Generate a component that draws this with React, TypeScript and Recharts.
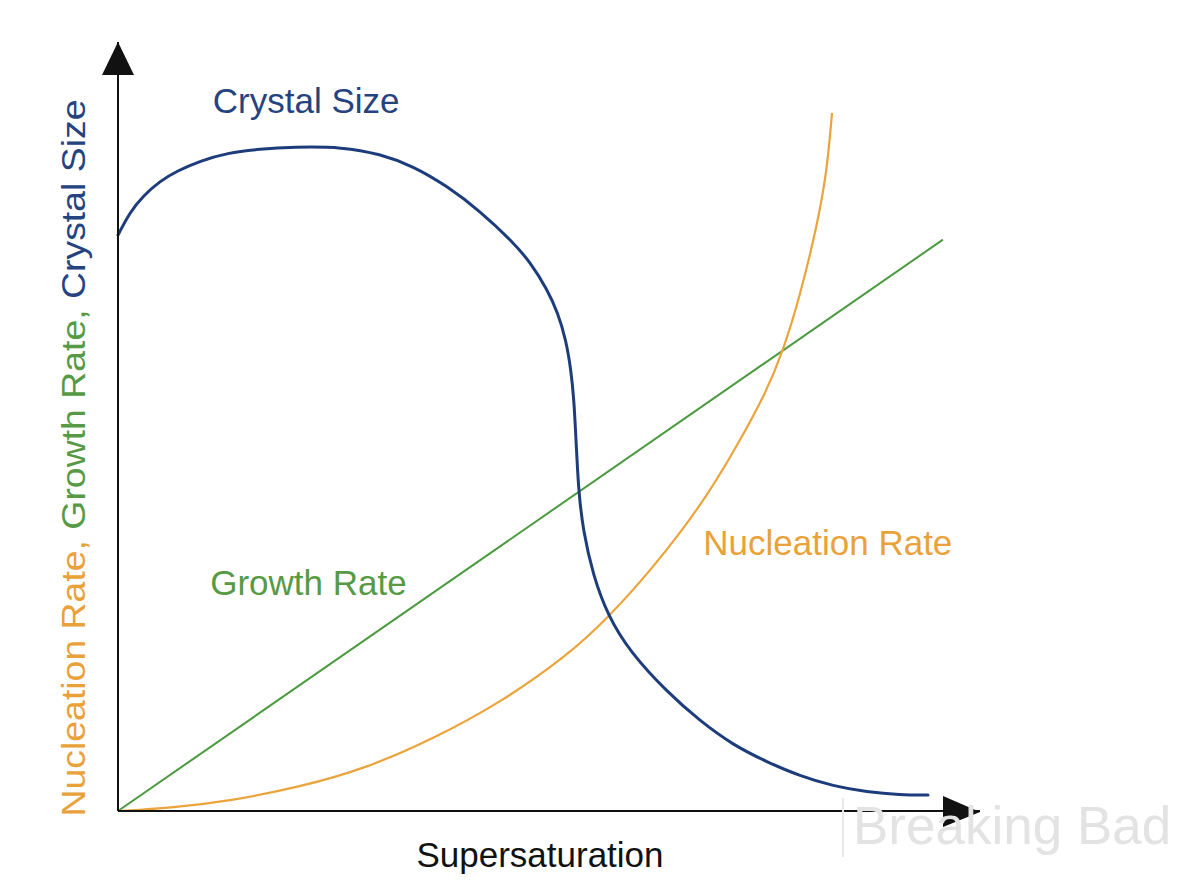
import { LineChart, Line, XAxis, YAxis, ReferenceDot } from "recharts";

// supersaturation (x) and the three curves (0..100 scale)
const crystalX = [0, 1.39, 2.9, 4.87, 6.84, 9.51, 12.65, 16.47, 20.3, 26.1, 30.39, 34.22, 38.17, 42.0, 45.82, 47.8, 49.77, 51.04, 51.97, 52.55, 52.9, 53.13, 53.31, 53.48, 53.94, 55.1, 56.84, 59.4, 63.69, 67.52, 71.35, 75.29, 79.12, 82.95, 86.89, 90.72, 93.97];
const crystalSize = [74.9, 77.89, 79.97, 81.92, 83.23, 84.53, 85.57, 86.09, 86.35, 86.35, 85.44, 83.88, 81.27, 78.02, 73.99, 71.39, 67.88, 64.76, 61.25, 57.35, 53.45, 48.24, 44.34, 41.35, 36.54, 30.69, 25.36, 20.68, 15.47, 11.7, 8.58, 6.37, 4.55, 3.25, 2.47, 2.08, 2.08];

const nucleationX = [0, 6.03, 12.99, 21.11, 28.89, 36.54, 44.32, 52.09, 56.84, 62.06, 67.52, 71.35, 75.29, 77.15, 79.12, 81.09, 82.25, 82.83];
const nucleationRate = [0, 0.39, 1.3, 3.12, 5.59, 9.36, 14.04, 20.16, 25.1, 31.6, 39.53, 46.55, 54.62, 59.82, 66.97, 76.07, 83.22, 90.77];

const growthX = [0, 95.7];
const growthRate = [0, 74.3];

// curve labels: text, anchor x, anchor y (baseline)
const labelText = ["Crystal Size", "Growth Rate", "Nucleation Rate"];
const labelX = [11.0, 10.7, 67.9];
const labelY = [90.8, 28.1, 33.3];

const BLUE = "#1d3c7c";
const GREEN = "#4a9a3e";
const ORANGE = "#eba43c";
const labelColors = ["#24437f", "#569a46", "#e9a23a"];
const FONT = "'Liberation Sans', Arial, sans-serif";

const crystalData = crystalX.map((x, i) => ({ x, y: crystalSize[i] }));
const nucleationData = nucleationX.map((x, i) => ({ x, y: nucleationRate[i] }));
const growthData = growthX.map((x, i) => ({ x, y: growthRate[i] }));

const YLabel = (props: any) => {
  const vb = props.viewBox;
  const bx = vb.x + vb.width - 33;
  const cy = 458;
  return (
    <text
      x={bx}
      y={cy}
      transform={`rotate(-90, ${bx}, ${cy})`}
      textAnchor="middle"
      fontSize={34}
      fontFamily={FONT}
      textLength={717}
      lengthAdjust="spacingAndGlyphs"
    >
      <tspan fill={labelColors[2]}>Nucleation Rate, </tspan>
      <tspan fill={labelColors[1]}>Growth Rate, </tspan>
      <tspan fill={labelColors[0]}>Crystal Size</tspan>
    </text>
  );
};

const XLabel = (props: any) => {
  const vb = props.viewBox;
  return (
    <text x={540} y={vb.y + 56} textAnchor="middle" fontSize={35} fontFamily={FONT} fill="#111">
      Supersaturation
    </text>
  );
};

export default function App() {
  return (
    <div style={{ position: "absolute", left: 0, top: 0, width: 1200, height: 888, background: "#fff" }}>
      <LineChart width={1200} height={888} margin={{ top: 42, right: 220, bottom: 47, left: 58 }}>
        <XAxis
          type="number"
          dataKey="x"
          domain={[0, 100]}
          height={30}
          tick={false}
          tickLine={false}
          axisLine={{ stroke: "#111", strokeWidth: 2 }}
          label={<XLabel />}
        />
        <YAxis
          type="number"
          dataKey="y"
          domain={[0, 100]}
          width={60}
          tick={false}
          tickLine={false}
          axisLine={{ stroke: "#111", strokeWidth: 2 }}
          label={<YLabel />}
        />
        <Line data={growthData} dataKey="y" type="linear" stroke={GREEN} strokeWidth={2} dot={false} isAnimationActive={false} />
        <Line data={nucleationData} dataKey="y" type="basis" stroke={ORANGE} strokeWidth={2.2} dot={false} isAnimationActive={false} />
        <Line data={crystalData} dataKey="y" type="basis" stroke={BLUE} strokeWidth={3} strokeLinecap="round" dot={false} isAnimationActive={false} />
        {/* axis arrowheads */}
        <ReferenceDot
          x={100}
          y={0}
          r={0}
          ifOverflow="visible"
          shape={(p: any) => (
            <polygon points={`${p.cx},${p.cy + 1} ${p.cx - 37},${p.cy - 15} ${p.cx - 37},${p.cy + 16}`} fill="#111" />
          )}
        />
        <ReferenceDot
          x={0}
          y={100}
          r={0}
          ifOverflow="visible"
          shape={(p: any) => (
            <polygon points={`${p.cx},${p.cy} ${p.cx - 16},${p.cy + 33} ${p.cx + 16},${p.cy + 33}`} fill="#111" />
          )}
        />
        {labelText.map((t, i) => (
          <ReferenceDot
            key={t}
            x={labelX[i]}
            y={labelY[i]}
            r={0}
            ifOverflow="visible"
            shape={(p: any) => (
              <text x={p.cx} y={p.cy} fontSize={35} fontFamily={FONT} fill={labelColors[i]}>
                {t}
              </text>
            )}
          />
        ))}
      </LineChart>
      {/* watermark */}
      <div style={{ position: "absolute", left: 842, top: 798, width: 2, height: 59, background: "#e8e8e8" }} />
      <div
        style={{
          position: "absolute",
          left: 853,
          top: 796,
          fontFamily: FONT,
          fontSize: 53,
          lineHeight: "60px",
          color: "#e3e3e3",
          whiteSpace: "nowrap",
        }}
      >
        Breaking Bad
      </div>
    </div>
  );
}
